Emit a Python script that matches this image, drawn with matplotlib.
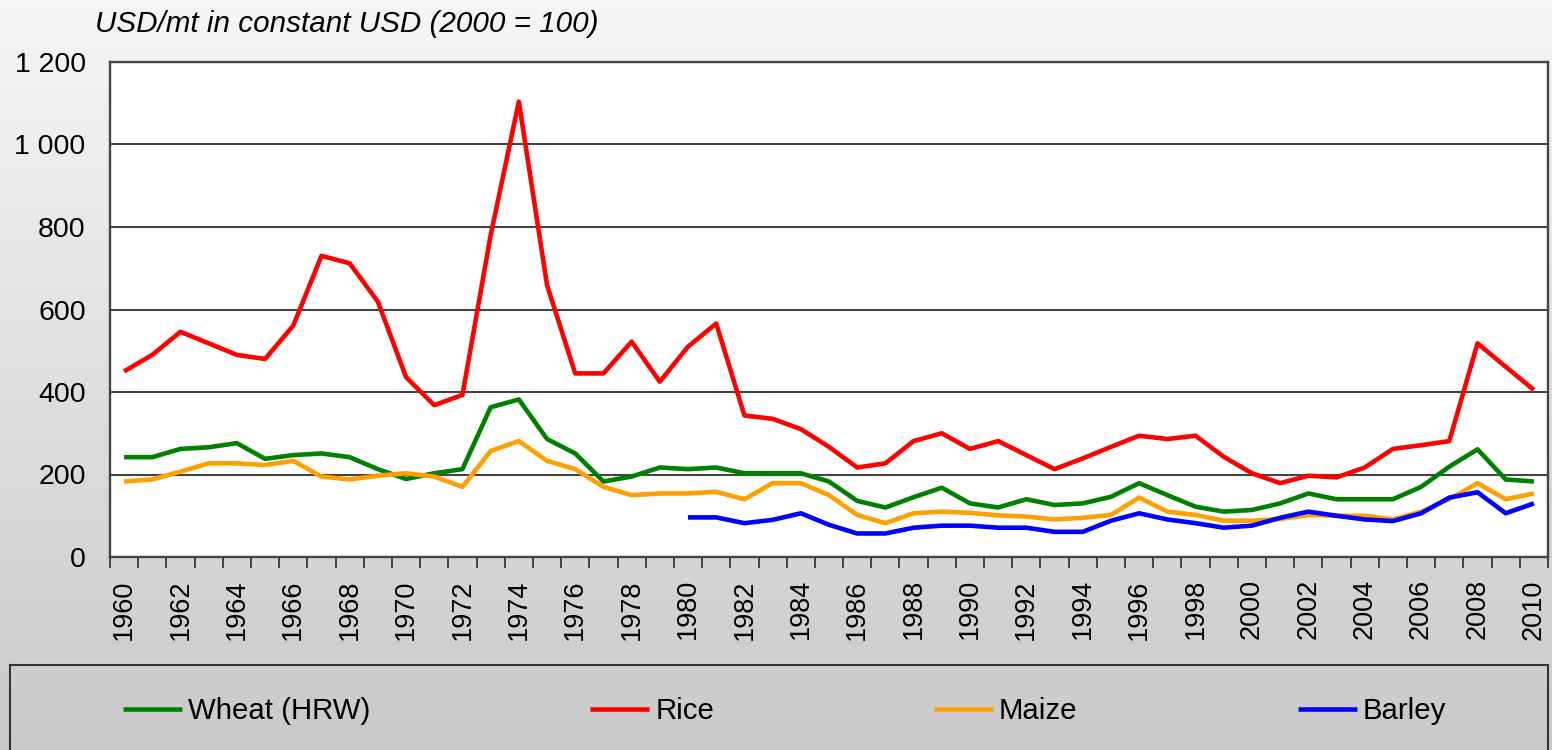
import numpy as np
import matplotlib
matplotlib.use("Agg")
import matplotlib.pyplot as plt
from matplotlib.ticker import FixedLocator, FuncFormatter, NullFormatter
from matplotlib.patches import Rectangle

plt.rcParams['font.family'] = ['Liberation Sans', 'DejaVu Sans']

years = list(range(1960, 2011))
wheat = [242, 242, 262, 266, 276, 238, 247, 251, 242, 213,
         189, 203, 213, 363, 382, 286, 251, 183, 195, 217,
         213, 217, 203, 203, 203, 183, 136, 120, 145, 168,
         130, 120, 140, 126, 130, 146, 179, 150, 122, 110,
         114, 130, 154, 140, 140, 140, 170, 219, 261, 188, 183]
rice = [450, 490, 546, 518, 490, 480, 561, 730, 712, 619,
        436, 368, 393, 780, 1104, 659, 445, 445, 522, 425,
        510, 566, 343, 335, 310, 267, 217, 227, 281, 300,
        262, 281, 247, 213, 239, 267, 294, 286, 294, 243,
        203, 179, 197, 193, 217, 262, 271, 281, 518, 461, 405]
maize = [183, 188, 207, 227, 227, 223, 233, 195, 188, 197,
         203, 195, 170, 257, 281, 233, 213, 170, 150, 154,
         154, 158, 140, 179, 179, 150, 102, 82, 106, 110,
         107, 101, 98, 91, 95, 102, 144, 110, 102, 88,
         88, 92, 102, 100, 100, 91, 110, 140, 179, 140, 154]
barley = [np.nan] * 20 + [
         96, 96, 82, 90, 106, 78, 57, 57, 71, 76,
         76, 71, 71, 61, 61, 88, 106, 91, 82, 71,
         76, 95, 110, 100, 91, 87, 106, 144, 157, 106, 130]

series_names = ["Wheat (HRW)", "Rice", "Maize", "Barley"]
series_colors = ["#008000", "#ff0000", "#ffa000", "#0000ff"]
y_ticks = [0, 200, 400, 600, 800, 1000, 1200]
x_label_years = list(range(1960, 2011, 2))
title = "USD/mt in constant USD (2000 = 100)"

W, H = 1552, 750
fig = plt.figure(figsize=(W / 100, H / 100), dpi=100)

# background gradient
bg = fig.add_axes([0, 0, 1, 1], zorder=-10)
grad = np.linspace(0, 1, 256).reshape(-1, 1)
top_c = np.array([0.965, 0.965, 0.965])
bot_c = np.array([0.79, 0.79, 0.79])
img = top_c[None, None, :] * (1 - grad[:, :, None]) + bot_c[None, None, :] * grad[:, :, None]
bg.imshow(img, aspect='auto', extent=[0, 1, 0, 1])
bg.set_xlim(0, 1); bg.set_ylim(0, 1)
bg.axis('off')

ax = fig.add_axes([110 / W, 1 - 557 / H, (1548 - 110) / W, (557 - 62) / H])
ax.set_facecolor('white')

for vals, name, col in zip([wheat, rice, maize, barley], series_names, series_colors):
    ax.plot(years, vals, color=col, lw=3.3, label=name, solid_joinstyle='round',
            solid_capstyle='butt', zorder=3)

ax.set_xlim(years[0] - 0.5, years[-1] + 0.5)
ax.set_ylim(0, 1200)

ax.yaxis.set_major_locator(FixedLocator(y_ticks))
ax.yaxis.set_major_formatter(FuncFormatter(lambda v, p: f"{int(v):,}".replace(",", " ")))
ax.tick_params(axis='y', length=0, pad=17.5, labelsize=20.5, colors='black')
ax.grid(axis='y', color='#444444', lw=1.5, zorder=1)

bounds = [y - 0.5 for y in years] + [years[-1] + 0.5]
ax.xaxis.set_major_locator(FixedLocator(bounds))
ax.xaxis.set_major_formatter(NullFormatter())
ax.xaxis.set_minor_locator(FixedLocator(x_label_years))
ax.xaxis.set_minor_formatter(FuncFormatter(lambda v, p: f"{int(round(v))}"))
ax.tick_params(axis='x', which='major', length=8, width=1.4, color='#444444', direction='out')
ax.tick_params(axis='x', which='minor', length=0, pad=16, labelsize=19.5, labelrotation=90)

for s in ax.spines.values():
    s.set_color('#444444')
    s.set_linewidth(1.7)

fig.text(95 / W, 1 - 24 / H, title, fontsize=21.3, style='italic', va='center', ha='left')

# legend box
fig.patches.append(Rectangle((10 / W, -0.05), (1548 - 10) / W, (0.05 + 1 - 665 / H),
                             transform=fig.transFigure, facecolor='none',
                             edgecolor='#333333', lw=1.5, zorder=1))
handles, labels = ax.get_legend_handles_labels()
leg = fig.legend(handles, labels, loc='center left', ncol=4, mode='expand',
                 bbox_to_anchor=(123 / W, 1 - 711 / H, (1446 - 123) / W, 0.0),
                 frameon=False, fontsize=21.2, handlelength=2.0, handletextpad=0.2,
                 borderaxespad=0, borderpad=0)

fig.savefig("out.png", dpi=100)
